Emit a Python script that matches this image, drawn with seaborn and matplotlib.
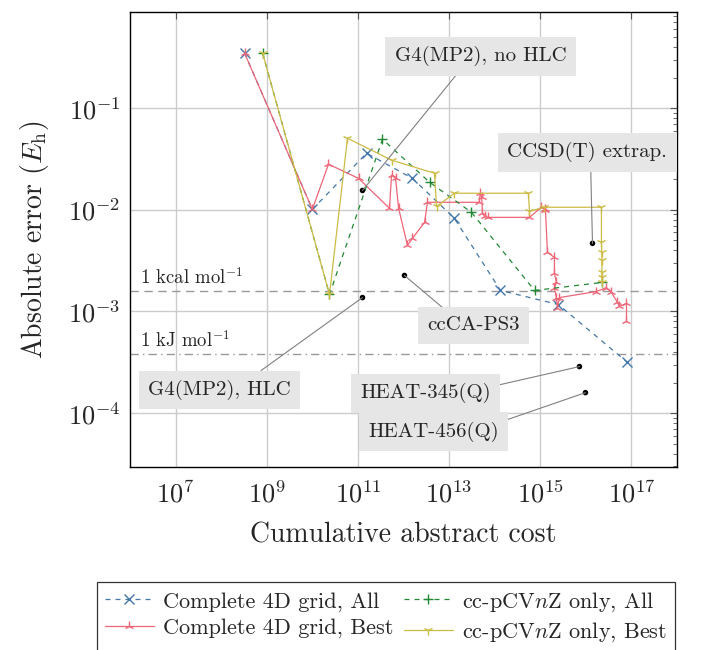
import numpy as np
import pandas as pd
import matplotlib
matplotlib.use("Agg")
import matplotlib.pyplot as plt
import matplotlib.ticker as mticker
from matplotlib.lines import Line2D
import seaborn as sns

# ---- data -------------------------------------------------------------
# Complete 4D grid, All
grid_all_cost = [3.26e8, 1.0e10, 1.55e11, 1.57e12, 1.31e13, 1.34e14, 2.5e15, 8.2e16]
grid_all_err = [0.348, 0.0101, 0.036, 0.0204, 0.00824, 0.00161, 0.00117, 0.000315]

# cc-pCVnZ only, All
cv_all_cost = [8.1e8, 2.38e10, 3.46e11, 3.72e12, 3.1e13, 7.5e14, 2.3e16]
cv_all_err = [0.348, 0.00147, 0.0495, 0.0187, 0.00944, 0.00161, 0.00193]

# cc-pCVnZ only, Best
cv_best_cost = [8.1e8, 2.38e10, 5.9e10, 5.46e11, 4.79e12, 5.3e12, 1.31e13, 5.5e14,
                5.8e14, 1.23e15, 2.2e16, 2.2e16, 2.25e16, 2.25e16, 2.25e16, 2.25e16, 2.25e16]
cv_best_err = [0.348, 0.00147, 0.0506, 0.0308, 0.0229, 0.0108, 0.01456, 0.01456,
               0.00966, 0.0106, 0.0106, 0.00479, 0.00381, 0.00318, 0.00242, 0.00216, 0.00193]

# Complete 4D grid, Best
grid_best_cost = [3.26e8, 1.0e10, 2.26e10, 1.03e11, 4.93e11, 5.46e11, 6.7e11, 7.8e11,
                  1.22e12, 1.57e12, 2.9e12, 3.36e12, 4.6e13, 4.8e13, 5.2e13, 5.4e13,
                  6.0e13, 7.0e13, 5.8e14, 1.06e15, 1.24e15, 1.30e15, 1.44e15, 2.05e15,
                  2.05e15, 2.26e15, 2.05e15, 2.26e15, 2.38e15, 2.63e15, 1.7e16, 2.83e16,
                  3.64e16, 4.93e16, 5.46e16, 7.8e16, 7.8e16]
grid_best_err = [0.348, 0.0101, 0.0281, 0.0204, 0.01035, 0.0219, 0.0204, 0.01035,
                 0.00447, 0.00524, 0.00753, 0.01186, 0.01186, 0.01456, 0.01327, 0.00925,
                 0.00863, 0.00843, 0.00843, 0.0106, 0.0101, 0.0099, 0.00381, 0.0034,
                 0.00237, 0.00193, 0.00169, 0.00137, 0.00109, 0.00137, 0.00157, 0.00172,
                 0.00154, 0.00123, 0.00112, 0.0012, 0.000815]

# reference methods
ref_names = ["G4(MP2), no HLC", "CCSD(T) extrap.", "ccCA-PS3",
             "G4(MP2), HLC", "HEAT-345(Q)", "HEAT-456(Q)"]
ref_cost = [1.26e11, 1.40e16, 1.05e12, 1.26e11, 7.24e15, 9.8e15]
ref_err = [0.0155, 0.00468, 0.00226, 0.00137, 2.87e-4, 1.59e-4]

# chemical-accuracy thresholds in hartree
kcal_mol = 0.0015936
kj_mol = 0.00038088

# ---- style ------------------------------------------------------------
sns.set_theme(style="white")
plt.rcParams["font.family"] = ["cmr10", "DejaVu Serif"]
plt.rcParams["mathtext.fontset"] = "cm"
plt.rcParams["axes.formatter.use_mathtext"] = True
plt.rcParams["axes.unicode_minus"] = False

BLUE, RED, GREEN, YELLOW = "#4477AA", "#EE6677", "#228833", "#CCBB44"
FS_TICK = 19
FS_LABEL = 20
FS_NOTE = 15
FS_LEG = 16

fig = plt.figure(figsize=(7.04, 6.5), dpi=100)
ax = fig.add_axes([130 / 704, 1 - 467 / 650, 547 / 704, 455 / 650])

lw = 0.9
ms = 6.5
series = [
    (grid_all_cost, grid_all_err, BLUE, "x", (4, 4), "Complete 4D grid, All"),
    (grid_best_cost, grid_best_err, RED, "2", None, "Complete 4D grid, Best"),
    (cv_all_cost, cv_all_err, GREEN, "+", (4, 4), r"cc-pCV$n$Z only, All"),
    (cv_best_cost, cv_best_err, YELLOW, "1", None, r"cc-pCV$n$Z only, Best"),
]
handles = []
for cost, err, col, mk, dash, lab in series:
    df = pd.DataFrame({"cost": cost, "err": err})
    sns.lineplot(data=df, x="cost", y="err", sort=False, estimator=None,
                 color=col, marker=mk, markersize=ms, markeredgewidth=1.0,
                 markeredgecolor=col, lw=lw, ax=ax, zorder=3)
    line = ax.lines[-1]
    if dash is not None:
        line.set_dashes(dash)
    handles.append(Line2D([], [], color=col, marker=mk, markersize=ms,
                          markeredgewidth=1.0, lw=lw,
                          linestyle=(0, dash) if dash else "-", label=lab))

ax.set_xscale("log")
ax.set_yscale("log")
ax.set_xlim(1e6, 1e18)
ax.set_ylim(10 ** -4.53, 10 ** -0.054)

# threshold lines
ax.axhline(kcal_mol, color="#999999", lw=1.0, ls=(0, (6, 4)), zorder=1)
ax.axhline(kj_mol, color="#999999", lw=1.0, ls=(0, (6, 3, 1, 3)), zorder=1)
ax.text(0.018, kcal_mol * 1.08, r"1 kcal mol$^{-1}$", fontsize=13.5,
        transform=ax.get_yaxis_transform(), va="bottom", ha="left")
ax.text(0.018, kj_mol * 1.08, r"1 kJ mol$^{-1}$", fontsize=13.5,
        transform=ax.get_yaxis_transform(), va="bottom", ha="left")

# reference methods with labels
sns.scatterplot(x=ref_cost, y=ref_err, color="black", s=16, edgecolor="none",
                ax=ax, zorder=5, legend=False)
label_pos = [(4.89e13, 0.325), (1.08e16, 0.0369), (3.43e13, 7.28e-4),
             (9.2e7, 1.69e-4), (3.03e12, 1.57e-4), (4.55e12, 6.58e-5)]
rel = [(0.4, 0.0), (0.52, 0.0), (0.28, 1.0), (0.70, 1.0), (1.0, 0.82), (1.0, 0.95)]
for name, cx, cy, (tx, ty), rp in zip(ref_names, ref_cost, ref_err, label_pos, rel):
    ax.annotate(name, xy=(cx, cy), xytext=(tx, ty), fontsize=FS_NOTE,
                ha="center", va="center", zorder=6,
                bbox=dict(boxstyle="square,pad=0.45", fc="#e6e6e6", ec="none"),
                arrowprops=dict(arrowstyle="-", color="#808080", lw=0.8,
                                relpos=rp, shrinkA=0, shrinkB=0))

# axes, ticks, grid
ax.xaxis.set_major_locator(mticker.FixedLocator([1e7, 1e9, 1e11, 1e13, 1e15, 1e17]))
ax.xaxis.set_minor_locator(mticker.NullLocator())
ax.xaxis.set_major_formatter(mticker.LogFormatterSciNotation())
ax.yaxis.set_major_locator(mticker.LogLocator(base=10, numticks=10))
ax.yaxis.set_minor_locator(mticker.LogLocator(base=10, subs=np.arange(2, 10), numticks=10))
ax.yaxis.set_minor_formatter(mticker.NullFormatter())
ax.tick_params(which="both", direction="in", top=True, right=True,
               labelsize=FS_TICK, color="#555555")
ax.tick_params(which="major", length=5, width=0.8, pad=7)
ax.tick_params(axis="x", which="major", pad=10)
ax.tick_params(which="minor", length=3, width=0.6)
ax.grid(True, which="major", color="#cccccc", lw=1.0, zorder=0)
for s in ax.spines.values():
    s.set_color("black")
    s.set_linewidth(1.0)

ax.set_xlabel("Cumulative abstract cost", fontsize=FS_LABEL, labelpad=10)
ax.set_ylabel(r"Absolute error ($E_\mathrm{h}$)", fontsize=FS_LABEL, labelpad=12)

leg = fig.legend(handles=handles, ncol=2, fontsize=FS_LEG,
                 loc="upper left", bbox_to_anchor=(97 / 704, 1 - 582 / 650),
                 frameon=True, fancybox=False, edgecolor="black",
                 handlelength=2.2, handletextpad=0.4, columnspacing=0.5,
                 borderpad=0.35, labelspacing=0.3, borderaxespad=0)
leg.get_frame().set_linewidth(0.9)

fig.savefig("out.png", dpi=100)
